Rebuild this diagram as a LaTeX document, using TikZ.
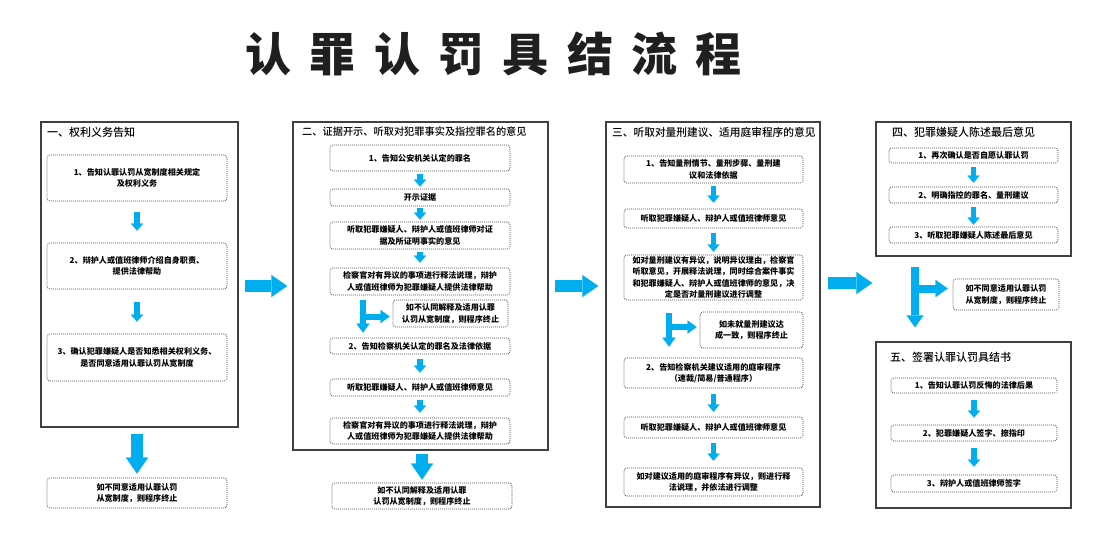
\documentclass[tikz,border=0pt]{standalone}
\usepackage{fontspec}
\setmainfont{Noto Sans CJK SC}
\newfontfamily\headfont{Noto Sans CJK SC Medium}
\newfontfamily\bodyfont{Noto Sans CJK SC Black}
\usetikzlibrary{arrows.meta}
\definecolor{flowblue}{HTML}{00AEEF}
\definecolor{framegray}{HTML}{404040}
\tikzset{
titlechar/.style={anchor=base, inner sep=0pt, text=black!88, font=\bodyfont\fontsize{46}{50}\selectfont},
outerbox/.style={draw=framegray, line width=1.4pt, inner sep=0pt},
heading/.style={anchor=west, inner sep=0pt, font=\headfont\fontsize{11}{13}\selectfont},
stepbox/.style={draw=black!70, line width=0.7pt, dash pattern=on 1pt off 1pt,
  rounded corners=3pt, align=center, inner sep=1pt,
  font=\bodyfont\fontsize{8.1}{11.5}\selectfont},
smallarr/.style={color=flowblue, line width=5.5pt,
  -{Triangle[width=12pt,length=7pt,line width=0.1pt]}, shorten <=4pt, shorten >=4pt},
tarr/.style={color=flowblue, line width=6pt,
  -{Triangle[width=13pt,length=9pt,line width=0.1pt]}},
tarrbig/.style={color=flowblue, line width=8pt,
  -{Triangle[width=17pt,length=12pt,line width=0.1pt]}},
bigarr/.style={color=flowblue, line width=12pt,
  -{Triangle[width=22pt,length=16pt,line width=0.1pt]}, shorten <=4pt, shorten >=4pt}
}
\begin{document}
\begin{tikzpicture}[x=1pt,y=-1pt]
\useasboundingbox (0,0) rectangle (1108,552);
% title
\foreach \ch [count=\i from 0] in {认,罪,认,罚,具,结,流,程}
  \node[titlechar] (title\i) at (268.5+64.3*\i,71) {\ch};

% column 1
\node[outerbox, minimum width=197, minimum height=305] (col1) at (139.5,274.5) {};
\node[heading] (h1) at (47,132) {一、权利义务告知};
\node[stepbox, minimum width=180, minimum height=46] (c1a) at (137,178) {1、告知认罪认罚从宽制度相关规定\\及权利义务};
\node[stepbox, minimum width=180, minimum height=46] (c1b) at (137,266) {2、辩护人或值班律师介绍自身职责、\\提供法律帮助};
\node[stepbox, minimum width=180, minimum height=47] (c1c) at (137,357.5) {3、确认犯罪嫌疑人是否知悉相关权利义务、\\是否同意适用认罪认罚从宽制度};
\node[stepbox, minimum width=180, minimum height=30] (c1end) at (137,493) {如不同意适用认罪认罚\\从宽制度，则程序终止};
\draw[smallarr, shorten <=11pt, shorten >=12pt] (c1a) -- (c1b);
\draw[smallarr, shorten <=13pt, shorten >=12pt] (c1b) -- (c1c);
\draw[bigarr, shorten <=6pt, shorten >=4pt] (c1end.north |- col1.south) -- (c1end);

% column 2
\node[outerbox, minimum width=255, minimum height=328] (col2) at (420.5,286) {};
\node[heading, font=\headfont\fontsize{10.2}{12}\selectfont] (h2) at (302,132) {二、证据开示、听取对犯罪事实及指控罪名的意见};
\node[stepbox, minimum width=180, minimum height=26] (c2a) at (420,158) {1、告知公安机关认定的罪名};
\node[stepbox, minimum width=180, minimum height=17] (c2b) at (420,197.5) {开示证据};
\node[stepbox, minimum width=180, minimum height=27] (c2c) at (420,235.5) {听取犯罪嫌疑人、辩护人或值班律师对证\\据及所证明事实的意见};
\node[stepbox, minimum width=180, minimum height=27] (c2d) at (420,281.5) {检察官对有异议的事项进行释法说理，辩护\\人或值班律师为犯罪嫌疑人提供法律帮助};
\node[stepbox, minimum width=115, minimum height=27] (c2side) at (450.5,313.5) {如不认同解释及适用认罪\\认罚从宽制度，则程序终止};
\node[stepbox, minimum width=180, minimum height=16] (c2e) at (420,346) {2、告知检察机关认定的罪名及法律依据};
\node[stepbox, minimum width=180, minimum height=17] (c2f) at (420,387.5) {听取犯罪嫌疑人、辩护人或值班律师意见};
\node[stepbox, minimum width=180, minimum height=26] (c2g) at (420,431) {检察官对有异议的事项进行释法说理，辩护\\人或值班律师为犯罪嫌疑人提供法律帮助};
\node[stepbox, minimum width=180, minimum height=26] (c2end) at (422,496) {如不认同解释及适用认罪\\认罚从宽制度，则程序终止};
\draw[smallarr, shorten <=3pt, shorten >=2pt] (c2a) -- (c2b);
\draw[smallarr, shorten <=2pt, shorten >=2pt] (c2b) -- (c2c);
\draw[smallarr, shorten <=3pt, shorten >=5pt] (c2c) -- (c2d);
\draw[smallarr, shorten <=5pt, shorten >=6pt] (c2e) -- (c2f);
\draw[smallarr, shorten <=4pt, shorten >=5pt] (c2f) -- (c2g);
\coordinate (t2) at (363,300);
\coordinate (b2) at ([yshift=-3pt]c2side.west);
\draw[tarr, shorten >=5pt] (t2) -- (t2 |- c2e.north);
\draw[tarr, shorten >=3pt] (t2 |- b2) -- (b2);
\draw[bigarr, shorten <=3pt, shorten >=3pt] (c2end.north |- col2.south) -- (c2end);
\draw[bigarr, shorten <=6pt, shorten >=5pt] (col1.east |- col2.west) -- (col2.west);

% column 3
\node[outerbox, minimum width=214, minimum height=385] (col3) at (713,314.5) {};
\node[heading, font=\headfont\fontsize{10.7}{13}\selectfont] (h3) at (612,132) {三、听取对量刑建议、适用庭审程序的意见};
\node[stepbox, minimum width=179, minimum height=27] (c3a) at (713.5,169.5) {1、告知量刑情节、量刑步骤、量刑建\\议和法律依据};
\node[stepbox, minimum width=179, minimum height=19] (c3b) at (713.5,218.5) {听取犯罪嫌疑人、辩护人或值班律师意见};
\node[stepbox, minimum width=179, minimum height=45] (c3c) at (713.5,277.5) {如对量刑建议有异议，说明异议理由，检察官\\听取意见，开展释法说理，同时综合案件事实\\和犯罪嫌疑人、辩护人或值班律师的意见，决\\定是否对量刑建议进行调整};
\node[stepbox, minimum width=103, minimum height=36] (c3side) at (751.5,330) {如未就量刑建议达\\成一致，则程序终止};
\node[stepbox, minimum width=179, minimum height=30] (c3d) at (713.5,373) {2、告知检察机关建议适用的庭审程序\\（速裁/简易/普通程序）};
\node[stepbox, minimum width=179, minimum height=21] (c3e) at (713.5,427.5) {听取犯罪嫌疑人、辩护人或值班律师意见};
\node[stepbox, minimum width=179, minimum height=28] (c3f) at (713.5,482) {如对建议适用的庭审程序有异议，则进行释\\法说理，并依法进行调整};
\draw[smallarr, shorten <=3pt, shorten >=6pt] (c3a) -- (c3b);
\draw[smallarr, shorten <=5pt, shorten >=3pt] (c3b) -- (c3c);
\draw[smallarr, shorten <=6pt, shorten >=5pt] (c3d) -- (c3e);
\draw[smallarr, shorten <=5pt, shorten >=7pt] (c3e) -- (c3f);
\coordinate (t3) at (669,313);
\coordinate (b3) at ([yshift=3pt]c3side.west);
\draw[tarr, shorten >=11pt] (t3) -- (t3 |- c3d.north);
\draw[tarr, shorten >=3pt] (t3 |- b3) -- (b3);
\draw[bigarr, shorten <=6pt, shorten >=7pt] (col2.east) -- (col2.east -| col3.west);

% column 4
\node[outerbox, minimum width=195, minimum height=134] (col4) at (973.5,189) {};
\node[heading] (h4) at (892,132) {四、犯罪嫌疑人陈述最后意见};
\node[stepbox, minimum width=169, minimum height=15] (c4a) at (973.5,155.5) {1、再次确认是否自愿认罪认罚};
\node[stepbox, minimum width=169, minimum height=16] (c4b) at (973.5,195) {2、明确指控的罪名、量刑建议};
\node[stepbox, minimum width=169, minimum height=16] (c4c) at (973.5,235) {3、听取犯罪嫌疑人陈述最后意见};
\node[stepbox, minimum width=106, minimum height=31] (c4side) at (1006,294.5) {如不同意适用认罪认罚\\从宽制度，则程序终止};
\draw[smallarr, shorten <=4pt, shorten >=4pt] (c4a) -- (c4b);
\draw[smallarr, shorten <=4pt, shorten >=2pt] (c4b) -- (c4c);
\coordinate (j3) at (820,283);
\draw[bigarr, shorten <=8pt, shorten >=3pt] (j3) -- (j3 -| col4.west);

% column 5
\node[outerbox, minimum width=195, minimum height=166] (col5) at (973.5,425) {};
\node[heading] (h5) at (890,357) {五、签署认罪认罚具结书};
\node[stepbox, minimum width=166, minimum height=15] (c5a) at (974,385.5) {1、告知认罪认罚反悔的法律后果};
\node[stepbox, minimum width=166, minimum height=16] (c5b) at (974,433) {2、犯罪嫌疑人签字、捺指印};
\node[stepbox, minimum width=166, minimum height=17] (c5c) at (974,483.5) {3、辩护人或值班律师签字};
\draw[smallarr, shorten <=7pt, shorten >=7pt] (c5a) -- (c5b);
\draw[smallarr, shorten <=7pt, shorten >=8pt] (c5b) -- (c5c);
\coordinate (t4) at (915,267);
\coordinate (b4) at ([yshift=6pt]c4side.west);
\draw[tarrbig, shorten >=14pt] (t4) -- (t4 |- col5.north);
\draw[tarrbig, shorten >=5pt] (t4 |- b4) -- (b4);
\end{tikzpicture}
\end{document}
